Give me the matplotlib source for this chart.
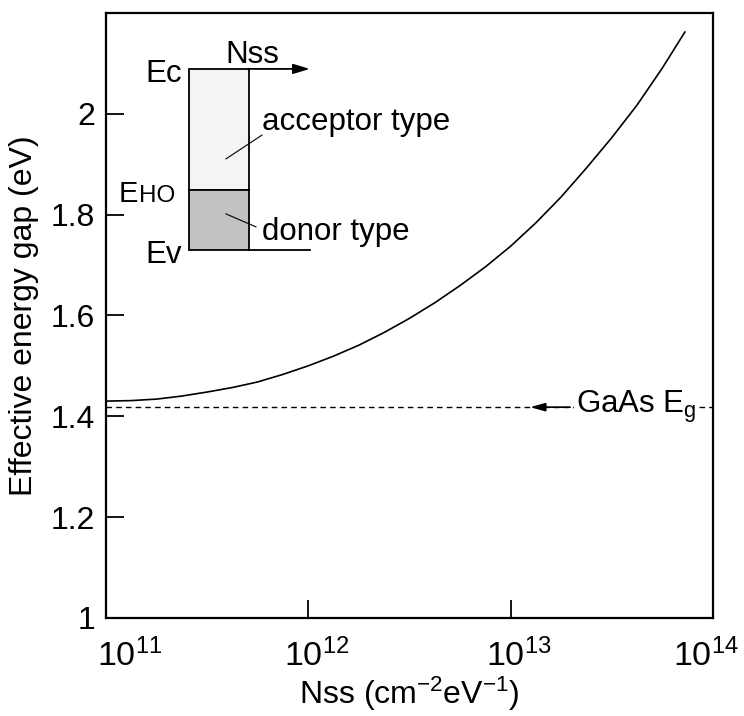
"""
Effective energy gap vs. surface state density (GaAs).
"""

import matplotlib
matplotlib.use("Agg")
import matplotlib.pyplot as plt
import matplotlib.transforms as mtransforms
from matplotlib.patches import Rectangle

plt.rcParams["font.family"] = ["Liberation Sans", "DejaVu Sans"]
plt.rcParams["mathtext.fontset"] = "custom"
plt.rcParams["mathtext.rm"] = "Liberation Sans"
plt.rcParams["mathtext.it"] = "Liberation Sans:italic"

# curve: Nss (cm^-2 eV^-1) vs effective gap (eV)
nss = [1.00e11, 1.33e11, 1.78e11, 2.37e11, 3.16e11, 4.22e11, 5.62e11, 7.50e11,
       1.00e12, 1.33e12, 1.78e12, 2.37e12, 3.16e12, 4.22e12, 5.62e12, 7.50e12,
       1.00e13, 1.33e13, 1.78e13, 2.37e13, 3.16e13, 4.22e13, 5.62e13, 7.28e13]
gap = [1.430, 1.431, 1.434, 1.440, 1.448, 1.457, 1.468, 1.483,
       1.500, 1.519, 1.541, 1.566, 1.594, 1.625, 1.659, 1.696,
       1.737, 1.783, 1.835, 1.892, 1.952, 2.017, 2.090, 2.162]

gaas_eg = 1.418
arrow_tip, arrow_tail = 1.25e13, 1.97e13

x_ticks = [1e11, 1e12, 1e13, 1e14]
x_labels = ["$10^{11}$", "$10^{12}$", "$10^{13}$", "$10^{14}$"]
y_ticks = [1.0, 1.2, 1.4, 1.6, 1.8, 2.0]
y_labels = ["1", "1.2", "1.4", "1.6", "1.8", "2"]


def main():
    fig = plt.figure(figsize=(7.44, 7.16), dpi=100)
    ax = fig.add_axes([0.1425, 0.137, 0.8155, 0.845])

    ax.plot(nss, gap, color="black", lw=1.2)
    ax.plot([1e11, 1e14], [gaas_eg, gaas_eg], color="black", lw=1.0,
            dashes=(4, 3))
    ax.annotate("", xy=(arrow_tip, gaas_eg), xytext=(arrow_tail, gaas_eg),
                arrowprops=dict(arrowstyle="-|>,head_length=0.9,head_width=0.25",
                                color="black", lw=1.2, shrinkA=0, shrinkB=0))
    t = ax.text(2.1e13, gaas_eg, "GaAs E$_\\mathrm{g}$", fontsize=22.5,
                va="center", ha="left",
                bbox=dict(facecolor="white", edgecolor="none", pad=1))
    t.set_zorder(3)

    ax.set_xscale("log")
    ax.set_xlim(1e11, 1e14)
    ax.set_ylim(1.0, 2.2)
    ax.set_xticks(x_ticks)
    ax.set_xticklabels(x_labels)
    ax.minorticks_off()
    ax.set_yticks(y_ticks)
    ax.set_yticklabels(y_labels)
    ax.tick_params(direction="in", length=13, width=1.3, labelsize=23)
    ax.tick_params(axis="y", pad=8)
    ax.tick_params(axis="x", pad=15, labelsize=24.5)

    # nudge x tick labels so the "10" sits on the tick
    shifts = [24, 8, 8, -7]
    for lab, dx in zip(ax.get_xticklabels(), shifts):
        off = mtransforms.ScaledTranslation(dx / 100, 0, fig.dpi_scale_trans)
        lab.set_transform(lab.get_transform() + off)

    for sp in ax.spines.values():
        sp.set_linewidth(1.6)

    ax.set_xlabel("Nss (cm$^{-2}$eV$^{-1}$)", fontsize=23, labelpad=1)
    ax.set_ylabel("Effective energy gap (eV)", fontsize=23, labelpad=8)

    # inset band diagram (axes fraction coords)
    tr = ax.transAxes
    bl, br, btop, bmid, bbot = 0.1367, 0.2356, 0.9074, 0.7074, 0.6083
    ax.add_patch(Rectangle((bl, bmid), br - bl, btop - bmid, transform=tr,
                           facecolor="#f4f4f4", edgecolor="black", lw=1.3))
    ax.add_patch(Rectangle((bl, bbot), br - bl, bmid - bbot, transform=tr,
                           facecolor="#c2c2c2", edgecolor="black", lw=1.3))
    ax.plot([br, 0.336], [bbot, bbot], color="black", lw=1.3, transform=tr)
    ax.annotate("", xy=(0.336, btop), xytext=(br - 0.002, btop),
                xycoords=tr, textcoords=tr,
                arrowprops=dict(arrowstyle="-|>,head_length=1.0,head_width=0.3",
                                color="black", lw=1.3, shrinkA=0, shrinkB=0))
    ax.plot([0.1977, 0.257], [0.7587, 0.798], color="black", lw=0.8, transform=tr)
    ax.plot([0.1977, 0.2471], [0.6678, 0.6463], color="black", lw=0.8, transform=tr)

    fs = 22.5
    ax.text(0.125, 0.886, "Ec", transform=tr, fontsize=fs, ha="right", va="baseline")
    ax.text(0.2405, 0.917, "Nss", transform=tr, fontsize=fs, ha="center", va="baseline")
    ax.text(0.021, 0.688, "E", transform=tr, fontsize=21, ha="left", va="baseline")
    ax.text(0.055, 0.688, "HO", transform=tr, fontsize=17.5, ha="left", va="baseline")
    ax.text(0.125, 0.587, "Ev", transform=tr, fontsize=fs, ha="right", va="baseline")
    ax.text(0.257, 0.807, "acceptor type", transform=tr, fontsize=fs,
            ha="left", va="baseline")
    ax.text(0.257, 0.625, "donor type", transform=tr, fontsize=fs,
            ha="left", va="baseline")

    fig.savefig("out.png", dpi=100)


if __name__ == "__main__":
    main()
